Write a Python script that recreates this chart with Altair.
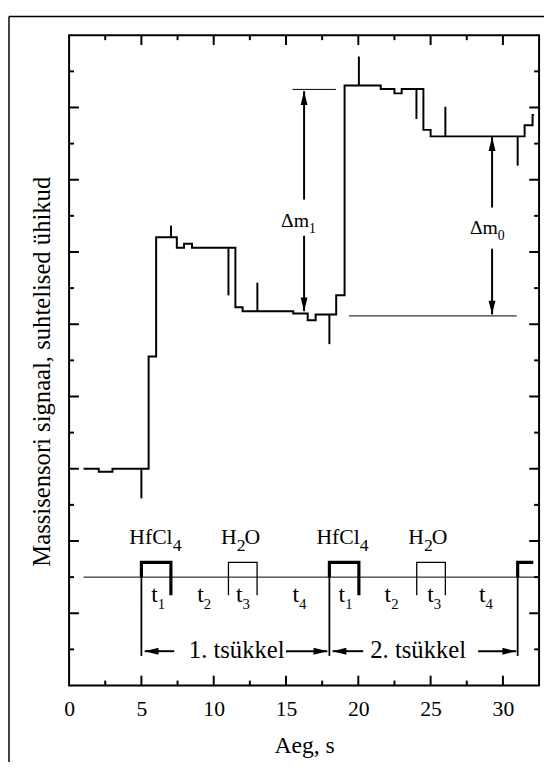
import altair as alt
import pandas as pd

FONT = "Liberation Serif"
W, H = 477, 660

# ---- data (time in s, signal in y-tick units) ----
sig_t = [1.0, 2.05, 3.0, 5.5, 6.02, 7.45, 7.95, 8.5, 11.5, 12.0, 15.5, 16.5, 17.05,
         18.47, 19.05, 21.55, 22.5, 23.0, 24.5, 25.0, 31.5, 32.05, 32.15]
sig_y = [6.0, 5.92, 6.0, 9.11, 12.41, 12.12, 12.23, 12.12, 10.47, 10.36, 10.3, 10.11, 10.27,
         10.8, 16.61, 16.51, 16.39, 16.51, 15.38, 15.2, 15.51, 15.79, 15.79]

spike_t = [5.0, 7.05, 11.02, 13.02, 18.0, 20.04, 24.02, 26.02, 31.02]
spike_from = [6.0, 12.41, 12.12, 10.36, 10.27, 16.61, 16.51, 15.2, 15.2]
spike_to = [5.18, 12.73, 10.8, 11.15, 9.45, 17.41, 15.68, 16.02, 14.39]

x_labels = [0, 5, 10, 15, 20, 25, 30]
x_major = [5, 10, 15, 20, 25, 30]
x_minor = [2.5, 7.5, 12.5, 17.5, 22.5, 27.5]
y_major = [2, 4, 6, 8, 10, 12, 14, 16]
y_minor = [1, 3, 5, 7, 9, 11, 13, 15, 17]

# Delta m reference lines and arrows
ref_x0 = [15.45, 19.36]
ref_x1 = [18.45, 30.95]
ref_y = [16.5, 10.23]
dm_arrow_x = [16.25, 16.25, 29.25, 29.25]
dm_arrow_from = [13.45, 12.45, 13.23, 12.09]
dm_arrow_to = [16.45, 10.36, 15.18, 10.27]
dm_sub = ["1", "0"]
dm_x = [16.59, 29.65]
dm_y = [12.68, 12.5]

# pulse timeline
base_y = 3.0
pulse_top = 3.41
pulse_low = 2.5
marker_low = 0.82
hf_start = [5.0, 18.0, 31.02]
hf_end = [7.04, 20.04, 32.1]
h2o_start = [11.02, 24.04]
h2o_end = [13.0, 26.02]

formula_main = ["HfCl", "H", "HfCl", "H"]
formula_sub = ["4", "2", "4", "2"]
formula_tail = ["", "O", "", "O"]
formula_x = [7.16, 11.59, 20.1, 24.54]
formula_y = 3.91

t_sub = ["1", "2", "3", "4", "1", "2", "3", "4"]
t_x = [6.13, 9.32, 12.0, 15.9, 19.09, 22.27, 25.22, 28.8]
t_y = 2.32

cyc_text = ["1. tsükkel", "2. tsükkel"]
cyc_x = [11.59, 24.14]
cyc_y = 0.77
cyc_arrow_from = [7.27, 15.0, 20.34, 28.29]
cyc_arrow_to = [5.23, 17.86, 18.22, 30.92]
cyc_arrow_y = 0.95

# ---- scales & axes ----
xs = alt.Scale(domain=[0, 32.5], nice=False, zero=False)
ys = alt.Scale(domain=[0, 18], nice=False, zero=False)

AX = alt.Axis(
    values=x_labels, format="d", ticks=False, tickSize=0, domain=False, grid=False,
    labelFont=FONT, labelFontSize=22, labelColor="black", labelPadding=13,
    labelFlush=False, labelBaseline="top",
    title="Aeg, s", titleFont=FONT, titleFontSize=24, titleFontWeight="normal",
    titleColor="black", titleBaseline="alphabetic", titleY=68)
AY = alt.Axis(
    labels=False, ticks=False, domain=False, grid=False,
    title="Massisensori signaal, suhtelised ühikud", titleFont=FONT, titleFontSize=25,
    titleFontWeight="normal", titleColor="black", titleBaseline="alphabetic",
    titleX=-20, titleY=341, titleAngle=270)


def X(f):
    return alt.X(f, type="quantitative", scale=xs, axis=AX)


def Y(f):
    return alt.Y(f, type="quantitative", scale=ys, axis=AY)


one = pd.DataFrame({"a": [0]})

# signal staircase
sig = pd.DataFrame({"t": sig_t, "v": sig_y})
signal = alt.Chart(sig).mark_line(interpolate="step-after", color="black", strokeWidth=2).encode(
    x=X("t"), y=Y("v"))

spk = pd.DataFrame({"t": spike_t, "a": spike_from, "b": spike_to})
spikes = alt.Chart(spk).mark_rule(color="black", strokeWidth=2).encode(
    x=X("t"), y=Y("a"), y2="b")

# axis ticks (inside, all four sides)
xmaj = pd.DataFrame({"t": x_major})
xmin = pd.DataFrame({"t": x_minor})
ymaj = pd.DataFrame({"v": y_major})
ymin = pd.DataFrame({"v": y_minor})
tick_layers = []
for df, ln in [(xmaj, 10), (xmin, 5)]:
    tick_layers.append(alt.Chart(df).mark_rule(color="black", strokeWidth=2).encode(
        x=X("t"), y=alt.value(H), y2=alt.value(H - ln)))
    tick_layers.append(alt.Chart(df).mark_rule(color="black", strokeWidth=2).encode(
        x=X("t"), y=alt.value(0), y2=alt.value(ln)))
for df, ln in [(ymaj, 10), (ymin, 5)]:
    tick_layers.append(alt.Chart(df).mark_rule(color="black", strokeWidth=2).encode(
        y=Y("v"), x=alt.value(0), x2=alt.value(ln)))
    tick_layers.append(alt.Chart(df).mark_rule(color="black", strokeWidth=2).encode(
        y=Y("v"), x=alt.value(W), x2=alt.value(W - ln)))

# outer figure border
border_v = alt.Chart(one).mark_rule(color="black", strokeWidth=1.5).encode(
    x=alt.value(-61), y=alt.value(-19), y2=alt.value(H + 120))
border_h = alt.Chart(one).mark_rule(color="black", strokeWidth=1.5).encode(
    y=alt.value(-19), x=alt.value(-61), x2=alt.value(W + 80))

# reference lines for Delta m
refdf = pd.DataFrame({"a": ref_x0, "b": ref_x1, "v": ref_y})
refs = alt.Chart(refdf).mark_rule(color="black", strokeWidth=1).encode(
    x=X("a"), x2="b", y=Y("v"))

dma = pd.DataFrame({"t": dm_arrow_x, "a": dm_arrow_from, "b": dm_arrow_to})
dma["up"] = dma["b"] > dma["a"]
dm_shafts = alt.Chart(dma).mark_rule(color="black", strokeWidth=2).encode(
    x=X("t"), y=Y("a"), y2="b")
UP = "M0,0L0.5,2L-0.5,2Z"
DOWN = "M0,0L0.5,-2L-0.5,-2Z"
LEFT = "M0,0L2,0.5L2,-0.5Z"
RIGHT = "M0,0L-2,0.5L-2,-0.5Z"
dm_up = alt.Chart(dma[dma["up"]]).mark_point(
    shape=UP, filled=True, size=196, color="black", opacity=1).encode(x=X("t"), y=Y("b"))
dm_down = alt.Chart(dma[~dma["up"]]).mark_point(
    shape=DOWN, filled=True, size=196, color="black", opacity=1).encode(x=X("t"), y=Y("b"))

dml = pd.DataFrame({"t": dm_x, "v": dm_y, "s": dm_sub, "m": ["Δm"] * len(dm_x)})
dm_main = alt.Chart(dml).mark_text(font=FONT, fontSize=20, align="right", baseline="alphabetic",
                                   color="black").encode(x=X("t"), y=Y("v"), text="m:N")
dm_subs = alt.Chart(dml).mark_text(font=FONT, fontSize=14, align="left", baseline="alphabetic",
                                   dy=6, color="black").encode(x=X("t"), y=Y("v"), text="s:N")

# timeline
baseline = alt.Chart(pd.DataFrame({"a": [1.0], "b": [32.5], "v": [base_y]})).mark_rule(
    color="black", strokeWidth=1).encode(x=X("a"), x2="b", y=Y("v"))

rows = []
for i, (s, e) in enumerate(zip(hf_start, hf_end)):
    pts = [(s, base_y), (s, pulse_top), (e, pulse_top)]
    if i < len(hf_start) - 1:
        pts.append((e, pulse_low))
    for k, (px, py) in enumerate(pts):
        rows.append({"g": "hf%d" % i, "o": k, "t": px, "v": py})
hf = pd.DataFrame(rows)
hf_lines = alt.Chart(hf).mark_line(color="black", strokeWidth=3.2, strokeJoin="miter").encode(
    x=X("t"), y=Y("v"), detail="g:N", order="o:Q")

rows = []
for i, (s, e) in enumerate(zip(h2o_start, h2o_end)):
    for k, (px, py) in enumerate([(s, pulse_low), (s, pulse_top), (e, pulse_top), (e, pulse_low)]):
        rows.append({"g": "w%d" % i, "o": k, "t": px, "v": py})
w = pd.DataFrame(rows)
w_lines = alt.Chart(w).mark_line(color="black", strokeWidth=1.3, strokeJoin="miter").encode(
    x=X("t"), y=Y("v"), detail="g:N", order="o:Q")

mk = pd.DataFrame({"t": hf_start, "a": [base_y] * 3, "b": [marker_low] * 3})
markers = alt.Chart(mk).mark_rule(color="black", strokeWidth=1.8).encode(
    x=X("t"), y=Y("a"), y2="b")

fm = pd.DataFrame({"t": formula_x, "v": [formula_y] * 4, "m": formula_main,
                   "s": formula_sub, "z": formula_tail})
f_main = alt.Chart(fm).mark_text(font=FONT, fontSize=22, align="right", baseline="alphabetic",
                                 color="black").encode(x=X("t"), y=Y("v"), text="m:N")
f_sub = alt.Chart(fm).mark_text(font=FONT, fontSize=18, align="left", baseline="alphabetic",
                                dy=7, color="black").encode(x=X("t"), y=Y("v"), text="s:N")
f_tail = alt.Chart(fm).mark_text(font=FONT, fontSize=22, align="left", baseline="alphabetic",
                                 dx=8, color="black").encode(x=X("t"), y=Y("v"), text="z:N")

tl = pd.DataFrame({"t": t_x, "v": [t_y] * len(t_x), "s": t_sub, "m": ["t"] * len(t_x)})
t_main = alt.Chart(tl).mark_text(font=FONT, fontSize=24, align="right", baseline="alphabetic",
                                 color="black").encode(x=X("t"), y=Y("v"), text="m:N")
t_subs = alt.Chart(tl).mark_text(font=FONT, fontSize=15, align="left", baseline="alphabetic",
                                 dy=7, color="black").encode(x=X("t"), y=Y("v"), text="s:N")

cy = pd.DataFrame({"t": cyc_x, "v": [cyc_y] * 2, "m": cyc_text})
cyc_lab = alt.Chart(cy).mark_text(font=FONT, fontSize=25, align="center", baseline="alphabetic",
                                  color="black").encode(x=X("t"), y=Y("v"), text="m:N")

ca = pd.DataFrame({"a": cyc_arrow_from, "b": cyc_arrow_to, "v": [cyc_arrow_y] * 4})
ca["left"] = ca["b"] < ca["a"]
cyc_shafts = alt.Chart(ca).mark_rule(color="black", strokeWidth=2).encode(
    x=X("a"), x2="b", y=Y("v"))
cyc_left = alt.Chart(ca[ca["left"]]).mark_point(
    shape=LEFT, filled=True, size=196, color="black", opacity=1).encode(x=X("b"), y=Y("v"))
cyc_right = alt.Chart(ca[~ca["left"]]).mark_point(
    shape=RIGHT, filled=True, size=196, color="black", opacity=1).encode(x=X("b"), y=Y("v"))

chart = alt.layer(
    signal, spikes, *tick_layers, border_v, border_h, refs, dm_shafts, dm_up, dm_down,
    dm_main, dm_subs, baseline, hf_lines, w_lines, markers, f_main, f_sub, f_tail,
    t_main, t_subs, cyc_lab, cyc_shafts, cyc_left, cyc_right,
).properties(
    width=W, height=H,
    padding={"left": 62, "top": 22, "right": 5, "bottom": 72},
    autosize=alt.AutoSizeParams(type="none"),
).configure_view(stroke="black", strokeWidth=2)

chart.save("out.html", embed_options={"renderer": "svg", "actions": False})
